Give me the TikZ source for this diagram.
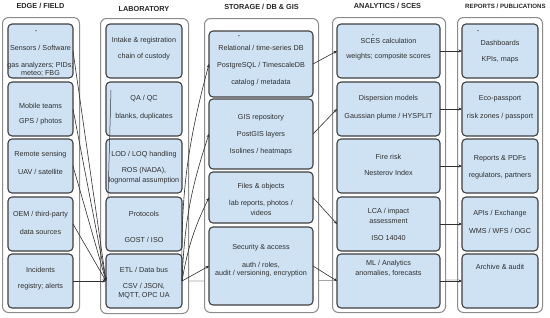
\documentclass[tikz,border=0pt]{standalone}
\usepackage{fontspec}
\setmainfont{Liberation Sans}
\usetikzlibrary{arrows.meta,backgrounds}
\definecolor{boxfill}{HTML}{CFE2F3}
\definecolor{boxline}{HTML}{3F3F3F}
\definecolor{contline}{HTML}{8C8C8C}
\definecolor{txtc}{HTML}{2E2E2E}
\definecolor{conn}{HTML}{303030}
\tikzset{
  cont/.style={draw=contline, fill=white, rounded corners=6pt, line width=1pt},
  ibox/.style={draw=boxline, fill=boxfill, rounded corners=4pt, line width=1.1pt, inner sep=0pt, outer sep=0pt, anchor=north west},
  tx/.style={font=\fontsize{7.2}{8}\selectfont, text=txtc, inner sep=0pt},
  hd/.style={font=\bfseries\fontsize{7.3}{8}\selectfont, text=black!85, inner sep=0pt},
  dotmark/.style={font=\fontsize{4}{4}\selectfont, text=black, inner sep=0pt},
  arr/.style={draw=conn, line width=0.6pt, -{Stealth[length=3.5pt,width=3pt]}},
  bgline/.style={draw=black!35, line width=0.8pt},
}
\newcommand\mkbox[5]{\node[ibox, minimum width=#4pt, minimum height=#5pt] (#1) at (#2,#3) {};}
\begin{document}
\begin{tikzpicture}[x=1pt,y=-1pt]
\useasboundingbox (0,0) rectangle (550,317);
% background line ETL -> archive (behind containers)
\coordinate (etlE) at (182,281);
\coordinate (arcW) at (462,280);
\draw[bgline] (etlE) -- (arcW);

% containers
\node[cont, anchor=north west, minimum width=77pt, minimum height=295pt, inner sep=0pt] (cEdge) at (2,17) {};
\node[cont, anchor=north west, minimum width=88pt, minimum height=295pt, inner sep=0pt] (cLab) at (100,18) {};
\node[cont, anchor=north west, minimum width=114pt, minimum height=294pt, inner sep=0pt] (cSto) at (204,18) {};
\node[cont, anchor=north west, minimum width=113pt, minimum height=295pt, inner sep=0pt] (cAna) at (332,17) {};
\node[cont, anchor=north west, minimum width=85pt, minimum height=295pt, inner sep=0pt] (cRep) at (457,17) {};

% headers
\node[hd] (hEdge) at (40.5,6) {EDGE / FIELD};
\node[hd] (hLab) at (144,9) {LABORATORY};
\node[hd] (hSto) at (261.5,7) {STORAGE / DB \& GIS};
\node[hd] (hAna) at (387.5,6) {ANALYTICS / SCES};
\node[hd, font=\bfseries\fontsize{6.15}{7}\selectfont] (hRep) at (505.5,6) {REPORTS / PUBLICATIONS};

% edge boxes
\mkbox{e1}{8}{24}{65}{54}
\mkbox{e2}{8}{82}{65}{54}
\mkbox{e3}{8}{139}{65}{54}
\mkbox{e4}{8}{197}{65}{54}
\mkbox{e5}{8}{254}{65}{54}
% lab boxes
\mkbox{l1}{106}{24}{76}{54}
\mkbox{l2}{106}{82}{76}{54}
\mkbox{l3}{106}{139}{76}{54}
\mkbox{l4}{106}{197}{76}{54}
\mkbox{l5}{106}{254}{76}{54}
% storage boxes
\mkbox{s1}{209}{31}{104}{66}
\mkbox{s2}{209}{99}{104}{70}
\mkbox{s3}{209}{172}{104}{51}
\mkbox{s4}{209}{227}{104}{78}
% analytics boxes
\mkbox{a1}{337}{24}{103}{54}
\mkbox{a2}{337}{82}{103}{54}
\mkbox{a3}{337}{139}{103}{54}
\mkbox{a4}{337}{197}{103}{54}
\mkbox{a5}{337}{254}{103}{54}
% report boxes
\mkbox{r1}{462}{24}{76}{54}
\mkbox{r2}{462}{82}{76}{54}
\mkbox{r3}{462}{139}{76}{54}
\mkbox{r4}{462}{197}{76}{54}
\mkbox{r5}{462}{254}{76}{54}

% edge texts
\node[dotmark] (e1d) at (36,32) {•};
\node[tx] (e1a) at (40.5,48) {Sensors / Software};
\node[tx] (e1b) at (40.5,65.5) {gas analyzers; PIDs;};
\node[tx] (e1c) at (40.5,73) {meteo; FBG};
\node[tx] (e2a) at (40.5,106) {Mobile teams};
\node[tx] (e2b) at (40.5,122) {GPS / photos};
\node[tx] (e3a) at (40.5,155) {Remote sensing};
\node[tx] (e3b) at (40.5,172) {UAV / satellite};
\node[tx] (e4a) at (40.5,215) {OEM / third-party};
\node[tx] (e4b) at (40.5,232) {data sources};
\node[tx] (e5a) at (40.5,270) {Incidents};
\node[tx] (e5b) at (40.5,287) {registry; alerts};

% lab texts
\node[tx] (l1a) at (144,41) {Intake \& registration};
\node[tx] (l1b) at (144,57) {chain of custody};
\node[tx] (l2a) at (144,99) {QA / QC};
\node[tx] (l2b) at (144,117) {blanks, duplicates};
\node[tx] (l3a) at (144,155) {LOD / LOQ handling};
\node[tx] (l3b) at (144,171) {ROS (NADA),};
\node[tx] (l3c) at (144,180.5) {lognormal assumption};
\node[tx] (l4a) at (144,214) {Protocols};
\node[tx] (l4b) at (144,240) {GOST / ISO};
\node[tx] (l5a) at (144,270) {ETL / Data bus};
\node[tx] (l5b) at (144,286) {CSV / JSON,};
\node[tx] (l5c) at (144,295.5) {MQTT, OPC UA};

% storage texts
\node[dotmark] (s1d) at (239,37) {•};
\node[tx] (s1a) at (261,48) {Relational / time-series DB};
\node[tx] (s1b) at (261,66) {PostgreSQL / TimescaleDB};
\node[tx] (s1c) at (261,83) {catalog / metadata};
\node[tx] (s2a) at (261,118) {GIS repository};
\node[tx] (s2b) at (261,135) {PostGIS layers};
\node[tx] (s2c) at (261,152) {Isolines / heatmaps};
\node[tx] (s3a) at (261,187) {Files \& objects};
\node[tx] (s3b) at (261,204) {lab reports, photos /};
\node[tx] (s3c) at (261,213) {videos};
\node[tx] (s4a) at (261,248) {Security \& access};
\node[tx] (s4b) at (261,265) {auth / roles,};
\node[tx] (s4c) at (261,274) {audit / versioning, encryption};

% analytics texts
\node[dotmark] (a1d) at (373,36) {•};
\node[tx] (a1a) at (388.5,41) {SCES calculation};
\node[tx] (a1b) at (388.5,57) {weights; composite scores};
\node[tx] (a2a) at (388.5,99) {Dispersion models};
\node[tx] (a2b) at (388.5,117) {Gaussian plume / HYSPLIT};
\node[tx] (a3a) at (388.5,157) {Fire risk};
\node[tx] (a3b) at (388.5,173) {Nesterov Index};
\node[tx] (a4a) at (388.5,212) {LCA / impact};
\node[tx] (a4b) at (388.5,221) {assessment};
\node[tx] (a4c) at (388.5,238) {ISO 14040};
\node[tx] (a5a) at (388.5,264) {ML / Analytics};
\node[tx] (a5b) at (388.5,273) {anomalies, forecasts};

% report texts
\node[dotmark] (r1d) at (478,32) {•};
\node[tx] (r1a) at (500,43) {Dashboards};
\node[tx] (r1b) at (500,60) {KPIs, maps};
\node[tx] (r2a) at (500,99) {Eco-passport};
\node[tx] (r2b) at (500,117) {risk zones / passport};
\node[tx] (r3a) at (500,159) {Reports \& PDFs};
\node[tx] (r3b) at (500,176) {regulators, partners};
\node[tx] (r4a) at (500,214) {APIs / Exchange};
\node[tx] (r4b) at (500,231) {WMS / WFS / OGC};
\node[tx] (r5a) at (500,267) {Archive \& audit};

% stray line in lab column
\coordinate (st1) at (111,90);
\coordinate (st2) at (108,198);
\draw[draw=conn, line width=0.5pt] (st1) -- (st2);

% edge -> ETL
\foreach \e in {e1,e2,e3,e4,e5}
  \draw[arr] (\e.east) -- (l5.west);

% ETL -> storage
\foreach \s in {s1,s2,s3}
  \draw[arr] (l5.east) to[bend left=8] (\s.west);
\draw[arr] (l5.east) -- (s4.west);

% storage -> analytics
\draw[arr] (s1.east) -- (a1.west);
\draw[arr] (s2.east) -- (a2.west);
\draw[arr] (s3.east) -- (a4.west);
\draw[arr] (s4.east) -- (a5.west);

% analytics -> reports
\draw[arr] (a1.east) -- (r1.west);
\draw[arr] (a2.east) -- (r2.west);
\draw[arr] (a3.east) -- (r3.west);
\draw[arr] (a4.east) -- (r4.west);
\draw[arr] (a5.east) -- (r5.west);
\end{tikzpicture}
\end{document}
